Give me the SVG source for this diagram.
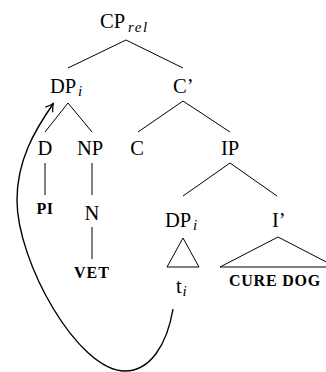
<svg xmlns="http://www.w3.org/2000/svg" width="326" height="372" viewBox="0 0 326 372">
<style>
text{font-family:'Liberation Serif','Times New Roman',serif;fill:#000}
.n{font-size:20.5px}
.s{font-size:15px;font-style:italic}
.sc{font-size:16px;font-weight:bold}
.e{stroke:#000;stroke-width:1;fill:none}
</style>
<defs>
<marker id="ah" markerWidth="12" markerHeight="12" refX="9" refY="6" orient="auto" markerUnits="userSpaceOnUse">
<path d="M2,1.5 Q6,4.5 9.5,6 Q6,7.5 2,10.5" fill="none" stroke="#000" stroke-width="1.2"/>
</marker>
</defs>
<g id="edges" class="e">
<line x1="126" y1="40" x2="68" y2="68"/>
<line x1="126" y1="40" x2="183" y2="68"/>
<line x1="68" y1="103" x2="45" y2="132"/>
<line x1="68" y1="103" x2="92" y2="132"/>
<line x1="183" y1="101" x2="138" y2="132"/>
<line x1="183" y1="101" x2="230" y2="132"/>
<line x1="45" y1="163" x2="45" y2="195"/>
<line x1="92" y1="163" x2="92" y2="195"/>
<line x1="92" y1="227" x2="92" y2="259"/>
<line x1="230" y1="163" x2="183" y2="196"/>
<line x1="230" y1="163" x2="277" y2="196"/>
<polygon points="183,238 167,267 199,267"/>
<polygon points="278,237 220,267 336,267"/>
<path d="M173,309 C167,345 150,371 125,371 C78,371 17,262 17,200 C17,160 35,130 53,104" stroke-width="1.4" marker-end="url(#ah)"/>
</g>
<g id="cp"><text class="n" x="100" y="28">CP</text><text class="s" x="128" y="32" font-size="16" letter-spacing="1.5">rel</text></g>
<g id="dp1"><text class="n" x="50" y="93">DP</text><text class="s" x="78" y="96">i</text></g>
<g id="cbar"><text class="n" x="173" y="93">C’</text></g>
<g id="d"><text class="n" x="45" y="155" text-anchor="middle">D</text></g>
<g id="np"><text class="n" x="90" y="155" text-anchor="middle">NP</text></g>
<g id="c"><text class="n" x="137" y="155" text-anchor="middle">C</text></g>
<g id="ip"><text class="n" x="230" y="155" text-anchor="middle">IP</text></g>
<g id="pi"><text class="sc" x="45" y="214" text-anchor="middle" letter-spacing="0.5">PI</text></g>
<g id="n"><text class="n" x="92" y="220" text-anchor="middle">N</text></g>
<g id="vet"><text class="sc" x="92" y="278" text-anchor="middle" letter-spacing="1">VET</text></g>
<g id="dp2"><text class="n" x="165" y="227">DP</text><text class="s" x="193" y="230">i</text></g>
<g id="ibar"><text class="n" x="272" y="227">I’</text></g>
<g id="t"><text class="n" x="176" y="293">t</text><text class="s" x="182.5" y="296">i</text></g>
<g id="curedog"><text class="sc" x="275" y="286" text-anchor="middle" letter-spacing="0.8">CURE DOG</text></g>
</svg>
